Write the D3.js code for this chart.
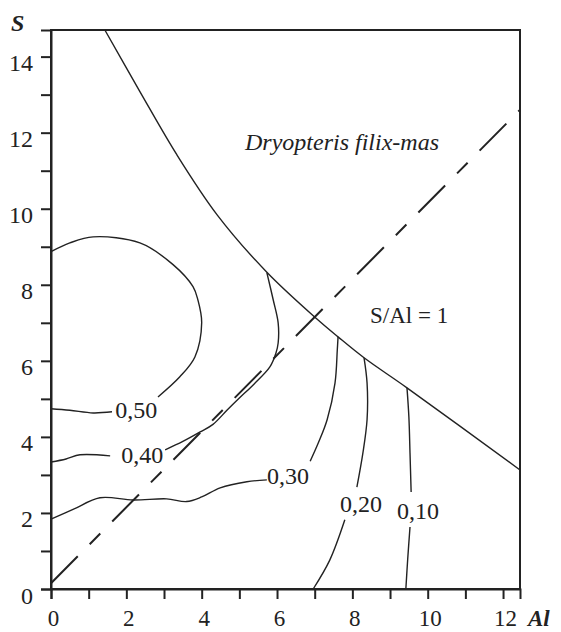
<!DOCTYPE html>
<html><head><meta charset="utf-8">
<script src="https://cdn.jsdelivr.net/npm/d3@7"></script>
<style>body{margin:0;background:#fff}svg{display:block}text{font-family:"Liberation Serif","Times New Roman",serif;fill:#222}</style>
</head><body><svg id="c" width="561" height="632"></svg>
<script>
// Axis ticks
const xTicks = [0,1,2,3,4,5,6,7,8,9,10,11,12];
const yTicks = [0,1,2,3,4,5,6,7,8,9,10,11,12,13,14];
// Upper boundary of the species' range (Al, S)
const boundary = [[1.43,14.7],[2.36,13.08],[3.34,11.42],[4.41,9.84],[5.73,8.33],[7.06,7.1],[7.62,6.63],[8.31,6.08],[9.45,5.29],[12.45,3.13]];
// S/Al = 1 line
const ratioLine = [[0,0.15],[12.45,12.6]];
// Contours (null = gap for label)
const contour50 = [[0,4.74],[0.5,4.7],[1.12,4.63],[1.62,4.66],null,[2.84,5.05],[3.42,5.58],[3.82,6.1],[4.0,7.0],[3.9,7.6],[3.77,7.95],[3.24,8.53],[2.36,9.1],[1.12,9.26],[0.5,9.1],[0,8.87]];
const contour40 = [[0,3.34],[0.4,3.42],[0.77,3.53],[1.57,3.5],null,[3.03,3.66],[3.5,3.88],[3.96,4.13],[4.3,4.33],[4.67,4.7],[5.0,5.02],[5.4,5.4],[5.81,5.84],[5.97,6.2],[6.03,6.47],[6.03,7.0],[5.9,7.6],[5.73,8.32]];
const contour30 = [[0,1.84],[0.6,2.1],[1.3,2.4],[2.18,2.34],[3.07,2.37],[3.6,2.3],[4.0,2.42],[4.49,2.66],[5.2,2.82],[5.73,2.87],null,[6.88,3.36],[7.1,3.85],[7.33,4.45],[7.54,5.42],[7.6,6.29],[7.62,6.63]];
const contour20 = [[6.96,0],[7.4,0.76],[7.8,1.82],null,[8.12,2.68],[8.28,3.58],[8.39,4.45],[8.39,5.42],[8.31,6.08]];
const contour10 = [[9.42,0],[9.47,0.8],[9.53,1.63],null,[9.56,2.55],[9.53,3.58],[9.5,4.53],[9.45,5.29]];
const contours = [contour50, contour40, contour30, contour20, contour10];
const contourLabels = ["0,50","0,40","0,30","0,20","0,10"];
const labelPos = [[2.26,4.71],[2.42,3.53],[6.29,2.97],[8.23,2.24],[9.74,2.05]];

const svg = d3.select("#c");
const x = d3.scaleLinear().domain([0,12.45]).range([51,520]);
const y = d3.scaleLinear().domain([0,14.7]).range([589,30]);
const ink = "#222";

// frame
svg.append("rect").attr("x",x(0)).attr("y",y(14.7)).attr("width",x(12.45)-x(0)).attr("height",y(0)-y(14.7))
  .attr("fill","none").attr("stroke",ink).attr("stroke-width",2);

const gy = svg.append("g").attr("transform",`translate(${x(0)},0)`)
  .call(d3.axisLeft(y).tickValues(yTicks).tickSize(10).tickPadding(8).tickFormat(d=>d%2===0?d:""));
const gx = svg.append("g").attr("transform",`translate(0,${y(0)})`)
  .call(d3.axisBottom(x).tickValues(xTicks).tickSize(10).tickFormat(d=>d%2===0?d:""));
[gy,gx].forEach(g=>{
  g.select(".domain").attr("stroke",ink).attr("stroke-width",2);
  g.selectAll(".tick line").attr("stroke",ink).attr("stroke-width",2);
  g.selectAll("text").attr("font-size",24).attr("font-family","Liberation Serif").attr("fill",ink);
});
gy.selectAll("text").attr("dy","14px");
gx.selectAll("text").attr("font-size",23).attr("y",37).attr("dy",0).attr("dx",2);

const line = d3.line().defined(d=>d!==null).x(d=>x(d[0])).y(d=>y(d[1])).curve(d3.curveCatmullRom);

svg.append("path").attr("d",line(boundary)).attr("fill","none").attr("stroke",ink).attr("stroke-width",1.4);
svg.append("path").attr("d",d3.line().x(d=>x(d[0])).y(d=>y(d[1]))(ratioLine))
  .attr("fill","none").attr("stroke",ink).attr("stroke-width",2).attr("stroke-dasharray","38,17,15,17");

contours.forEach((c,i)=>{
  svg.append("path").attr("d",line(c)).attr("fill","none").attr("stroke",ink).attr("stroke-width",1.4);
  svg.append("text").attr("x",x(labelPos[i][0])).attr("y",y(labelPos[i][1])).attr("dy","0.35em")
    .attr("text-anchor","middle").attr("font-size",24).text(contourLabels[i]);
});

svg.append("text").attr("x",245).attr("y",150).attr("font-size",24).attr("font-style","italic").text("Dryopteris filix-mas");
svg.append("text").attr("x",370).attr("y",323).attr("font-size",23).text("S/Al = 1");
svg.append("text").attr("x",11).attr("y",31).attr("font-size",24).attr("font-style","italic").attr("font-weight","bold").text("S");
svg.append("text").attr("x",528).attr("y",626).attr("font-size",23).attr("font-style","italic").attr("font-weight","bold").text("Al");
</script></body></html>
